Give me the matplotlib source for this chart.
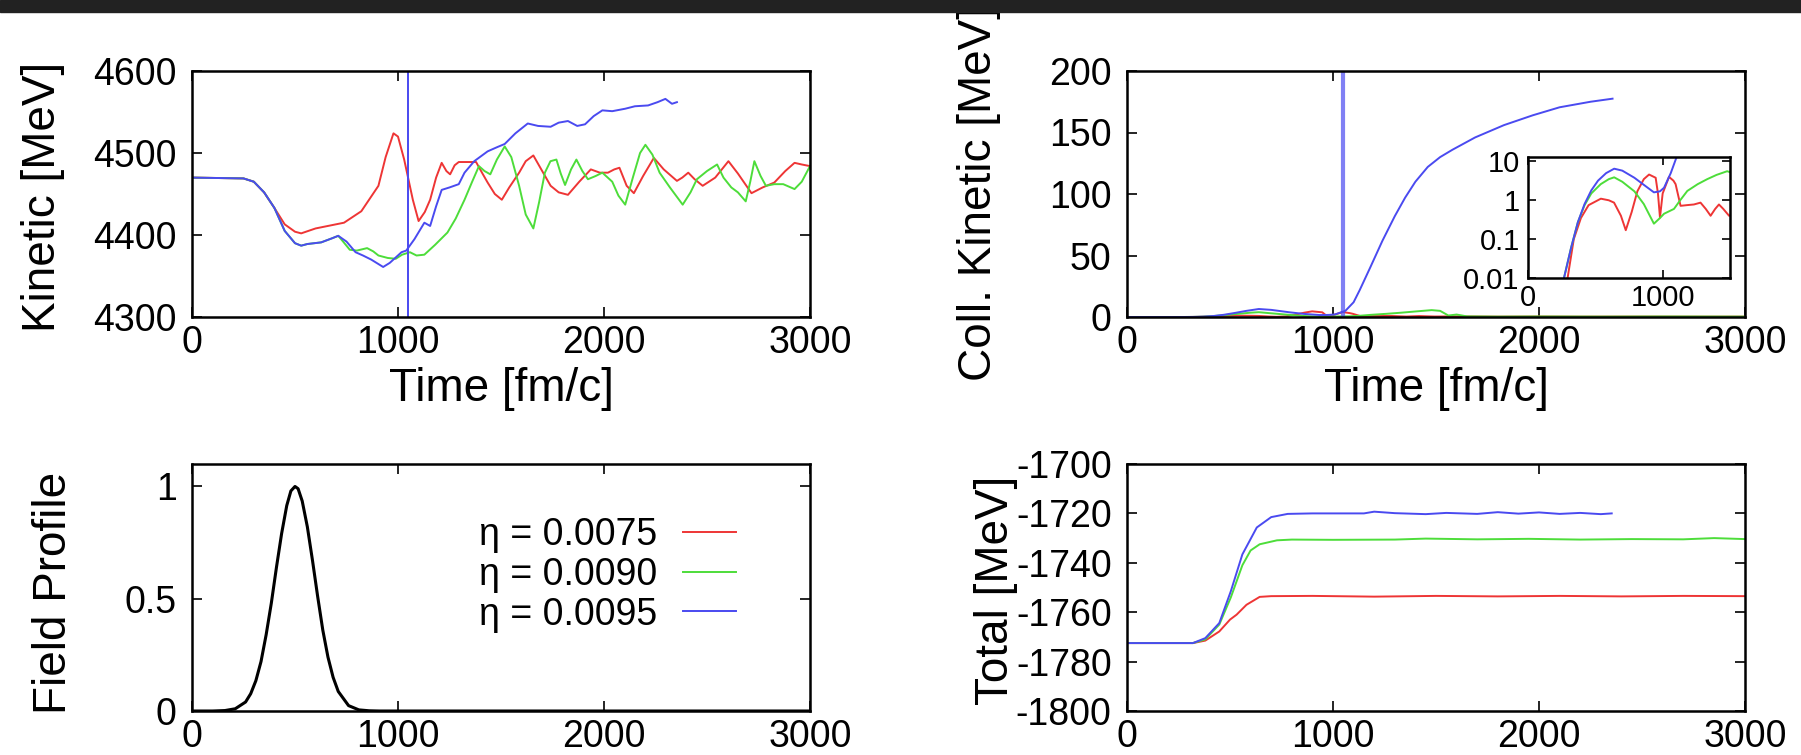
import numpy as np
import matplotlib
matplotlib.use("Agg")
import matplotlib.pyplot as plt
from matplotlib.lines import Line2D
from matplotlib.ticker import FixedLocator, FixedFormatter

plt.rcParams['font.family'] = ['Liberation Sans', 'DejaVu Sans']
plt.rcParams['axes.unicode_minus'] = False

RED, GREEN, BLUE = '#ee3535', '#4ddd3a', '#4a4af0'
labels = ['η = 0.0075', 'η = 0.0090', 'η = 0.0095']

# ---- Kinetic energy [MeV] ----
kin_red_t = [0, 250, 300, 350, 400, 450, 500, 530, 600, 738, 822, 905, 940, 978, 1000, 1030,
             1072, 1100, 1130, 1156, 1185, 1212, 1235, 1253, 1275, 1295, 1340, 1379, 1410, 1435,
             1470, 1504, 1540, 1588, 1620, 1657, 1700, 1741, 1780, 1825, 1880, 1936, 1980, 2019,
             2050, 2075, 2110, 2145, 2190, 2242, 2290, 2354, 2380, 2409, 2440, 2479, 2540, 2604,
             2650, 2716, 2770, 2827, 2880, 2925, 2960, 3000]
kin_red = [4470, 4469, 4465, 4452, 4433, 4413, 4404, 4402, 4408, 4415, 4429, 4460, 4495, 4524,
           4520, 4492, 4443, 4417, 4428, 4443, 4470, 4488, 4478, 4474, 4485, 4489, 4489, 4489,
           4475, 4464, 4450, 4443, 4458, 4476, 4490, 4497, 4478, 4460, 4452, 4449, 4465, 4480,
           4476, 4476, 4480, 4482, 4460, 4451, 4472, 4494, 4480, 4466, 4470, 4476, 4468, 4460,
           4470, 4490, 4475, 4451, 4458, 4464, 4478, 4488, 4486, 4484]

kin_green_t = [0, 250, 300, 350, 400, 450, 500, 530, 560, 627, 680, 710, 740, 766, 800, 850,
               880, 905, 950, 989, 1020, 1058, 1090, 1128, 1180, 1240, 1280, 1323, 1360, 1393,
               1420, 1448, 1480, 1518, 1550, 1588, 1620, 1657, 1685, 1713, 1740, 1769, 1790,
               1811, 1840, 1866, 1895, 1922, 1960, 1992, 2040, 2070, 2103, 2140, 2175, 2201,
               2235, 2270, 2320, 2382, 2420, 2451, 2500, 2549, 2580, 2618, 2650, 2688, 2710,
               2730, 2760, 2786, 2827, 2870, 2925, 2960, 3000]
kin_green = [4470, 4469, 4465, 4452, 4433, 4405, 4390, 4387, 4389, 4391, 4396, 4399, 4390, 4382,
             4381, 4384, 4380, 4375, 4372, 4371, 4376, 4379, 4375, 4376, 4388, 4403, 4420, 4443,
             4465, 4484, 4478, 4474, 4492, 4508, 4495, 4460, 4425, 4408, 4440, 4476, 4490, 4492,
             4475, 4461, 4480, 4492, 4478, 4468, 4472, 4476, 4465, 4448, 4437, 4470, 4500, 4510,
             4498, 4476, 4458, 4437, 4452, 4468, 4478, 4486, 4470, 4458, 4452, 4441, 4465, 4490,
             4472, 4460, 4462, 4462, 4456, 4465, 4484]

kin_blue_t = [0, 250, 300, 350, 400, 450, 500, 530, 560, 627, 680, 710, 750, 794, 830, 870, 928,
              960, 1017, 1040, 1080, 1128, 1156, 1185, 1212, 1250, 1295, 1323, 1370, 1435, 1480,
              1518, 1570, 1630, 1680, 1741, 1780, 1825, 1870, 1908, 1950, 1992, 2040, 2103, 2150,
              2214, 2260, 2298, 2330, 2354]
kin_blue = [4470, 4469, 4465, 4452, 4433, 4405, 4390, 4387, 4389, 4391, 4396, 4399, 4392, 4379,
            4375, 4370, 4361, 4366, 4379, 4381, 4395, 4415, 4411, 4435, 4455, 4458, 4462, 4476,
            4490, 4502, 4507, 4511, 4524, 4536, 4533, 4532, 4537, 4539, 4533, 4535, 4545, 4552,
            4551, 4554, 4557, 4558, 4562, 4566, 4560, 4562]

blue_spike_t = 1050  # time where the eta = 0.0095 run blows up

# ---- Collective kinetic energy [MeV] ----
coll_red_t = [0, 200, 294, 340, 393, 450, 541, 600, 639, 690, 726, 770, 812, 860, 899, 948, 965,
              980, 1000, 1047, 1080, 1096, 1133, 1180, 1232, 1281, 1320, 1356, 1390, 1418, 1450,
              1493, 1600, 1800, 2000, 2200, 2500, 2800, 3000]
coll_red = [1e-4, 1e-4, 0.01, 0.1, 0.35, 0.75, 1.1, 1.0, 0.87, 0.4, 0.17, 0.5, 1.7, 3.5, 4.6, 3.8,
            1.5, 0.36, 1.5, 4.0, 3.2, 2.6, 0.72, 0.75, 0.78, 0.87, 0.6, 0.4, 0.6, 0.78, 0.6, 0.4,
            0.5, 0.3, 0.4, 0.3, 0.35, 0.3, 0.3]

coll_green_t = [0, 200, 270, 320, 370, 420, 470, 540, 600, 640, 700, 790, 860, 935, 980, 1010,
                1084, 1130, 1183, 1260, 1331, 1400, 1479, 1520, 1560, 1600, 1650, 1800, 2000,
                2300, 2600, 3000]
coll_green = [1e-4, 1e-3, 0.011, 0.06, 0.27, 0.75, 1.5, 2.6, 3.5, 3.9, 3.0, 1.7, 0.8, 0.25, 0.35,
              0.45, 0.6, 1.0, 1.74, 2.6, 3.5, 4.5, 5.6, 5.0, 1.2, 2.0, 0.5, 0.3, 0.4, 0.3, 0.4, 0.3]

coll_blue_t = [0, 200, 270, 320, 370, 420, 470, 520, 580, 640, 700, 790, 860, 935, 980, 1010,
               1060, 1100, 1130, 1180, 1240, 1300, 1350, 1400, 1460, 1520, 1580, 1690, 1830, 1970,
               2100, 2250, 2357]
coll_blue = [1e-4, 1e-3, 0.011, 0.06, 0.27, 0.8, 1.8, 3.2, 5.0, 6.5, 5.8, 3.8, 2.5, 1.6, 1.7, 2.1,
             5.0, 12, 22, 40, 62, 82, 97, 110, 122, 130, 136, 146, 156, 164, 170.5, 175, 177.5]

# ---- Field profile ----
field_t = [0, 100, 160, 210, 260, 285, 310, 335, 360, 385, 410, 435, 460, 480, 500, 515, 535, 560,
           585, 610, 635, 660, 685, 710, 760, 810, 860, 910, 3000]
field = [0, 0, 0.002, 0.01, 0.04, 0.077, 0.135, 0.22, 0.34, 0.48, 0.64, 0.79, 0.915, 0.98, 1.0,
         0.99, 0.935, 0.82, 0.67, 0.51, 0.36, 0.24, 0.15, 0.087, 0.024, 0.005, 0.001, 0, 0]

# ---- Total energy [MeV] ----
tot_red_t = [0, 320, 380, 448, 500, 532, 580, 644, 700, 900, 1200, 1500, 1800, 2100, 2400, 2700, 3000]
tot_red = [-1772.5, -1772.5, -1771.5, -1767.8, -1763, -1761, -1757, -1753.8, -1753.5, -1753.4,
           -1753.7, -1753.4, -1753.6, -1753.4, -1753.6, -1753.4, -1753.5]
tot_green_t = [0, 320, 380, 448, 504, 560, 600, 644, 728, 800, 1000, 1300, 1450, 1700, 1950, 2200,
               2450, 2700, 2850, 3000]
tot_green = [-1772.5, -1772.5, -1771, -1765, -1754, -1741, -1735, -1732.5, -1730.9, -1730.6,
             -1730.7, -1730.6, -1730.2, -1730.5, -1730.3, -1730.6, -1730.4, -1730.5, -1730.0, -1730.4]
tot_blue_t = [0, 320, 380, 448, 504, 560, 630, 700, 780, 900, 1150, 1200, 1300, 1450, 1550, 1700,
              1800, 1900, 2000, 2100, 2200, 2300, 2353]
tot_blue = [-1772.5, -1772.5, -1770.5, -1764.4, -1751.5, -1736.6, -1725.7, -1721.5, -1720.2,
            -1720, -1720, -1719.3, -1719.9, -1720.3, -1719.8, -1720.2, -1719.5, -1720.1, -1719.6,
            -1720.2, -1719.8, -1720.3, -1720]

W, H = 1801, 755
fig = plt.figure(figsize=(W / 100, H / 100), dpi=100)


def px_axes(left, top, right, bottom):
    return fig.add_axes([left / W, 1 - bottom / H, (right - left) / W, (bottom - top) / H])


def style(ax, size=27):
    ax.tick_params(direction='in', top=True, right=True, length=7, width=1.2, labelsize=size)
    ax.tick_params(axis='x', pad=6)
    ax.tick_params(axis='y', pad=11)
    for s in ax.spines.values():
        s.set_linewidth(1.8)


lw = 1.4

ax1 = px_axes(192, 71, 810, 317)
ax1.plot(kin_red_t, kin_red, color=RED, lw=lw)
ax1.plot(kin_green_t, kin_green, color=GREEN, lw=lw)
ax1.plot(kin_blue_t, kin_blue, color=BLUE, lw=lw)
ax1.axvline(blue_spike_t, color=BLUE, lw=lw)
ax1.set_xlim(0, 3000)
ax1.set_ylim(4300, 4600)
ax1.set_xticks([0, 1000, 2000, 3000])
ax1.set_yticks([4300, 4400, 4500, 4600])
ax1.set_xlabel('Time [fm/c]', fontsize=33, labelpad=4)
ax1.set_ylabel('Kinetic [MeV]', fontsize=33)
ax1.yaxis.set_label_coords(-0.205, 0.49)
style(ax1)

ax2 = px_axes(1127, 71, 1745, 317)
ax2.plot(coll_red_t, coll_red, color=RED, lw=lw)
ax2.plot(coll_green_t, coll_green, color=GREEN, lw=lw)
ax2.plot(coll_blue_t, coll_blue, color=BLUE, lw=lw)
ax2.axvline(blue_spike_t, color=BLUE, lw=3, alpha=0.7)
ax2.set_xlim(0, 3000)
ax2.set_ylim(0, 200)
ax2.set_xticks([0, 1000, 2000, 3000])
ax2.set_yticks([0, 50, 100, 150, 200])
ax2.set_xlabel('Time [fm/c]', fontsize=33, labelpad=4)
ax2.set_ylabel('Coll. Kinetic [MeV]', fontsize=33)
ax2.yaxis.set_label_coords(-0.204, 0.5)
style(ax2)

axi = px_axes(1528, 157, 1730, 278)
axi.plot(coll_red_t, coll_red, color=RED, lw=lw)
axi.plot(coll_green_t, coll_green, color=GREEN, lw=lw)
axi.plot(coll_blue_t, coll_blue, color=BLUE, lw=lw)
axi.set_yscale('log')
axi.set_xlim(0, 1500)
axi.set_ylim(0.01, 13)
axi.xaxis.set_major_locator(FixedLocator([0, 1000]))
axi.yaxis.set_major_locator(FixedLocator([0.01, 0.1, 1, 10]))
axi.yaxis.set_major_formatter(FixedFormatter(['0.01', '0.1', '1', '10']))
axi.yaxis.set_minor_locator(FixedLocator([]))
style(axi, size=21)
axi.tick_params(length=6)
axi.tick_params(axis='x', pad=4)
axi.tick_params(axis='y', pad=6)

ax3 = px_axes(192, 464, 810, 711)
ax3.plot(field_t, field, color='black', lw=2.2)
ax3.set_xlim(0, 3000)
ax3.set_ylim(0, 1.1)
ax3.set_xticks([0, 1000, 2000, 3000])
ax3.set_yticks([0, 0.5, 1])
ax3.set_yticklabels(['0', '0.5', '1'])
ax3.set_ylabel('Field Profile', fontsize=33)
ax3.yaxis.set_label_coords(-0.188, 0.48)
style(ax3)
handles = [Line2D([], [], color=c, lw=lw) for c in (RED, GREEN, BLUE)]
ax3.legend(handles, labels, loc='upper right', bbox_to_anchor=(0.88, 0.785), frameon=False,
           markerfirst=False, fontsize=27, handlelength=1.4, handletextpad=0.7,
           labelspacing=0.1, borderpad=0, borderaxespad=0)

ax4 = px_axes(1127, 464, 1745, 711)
ax4.plot(tot_red_t, tot_red, color=RED, lw=lw)
ax4.plot(tot_green_t, tot_green, color=GREEN, lw=lw)
ax4.plot(tot_blue_t, tot_blue, color=BLUE, lw=lw)
ax4.set_xlim(0, 3000)
ax4.set_ylim(-1800, -1700)
ax4.set_xticks([0, 1000, 2000, 3000])
ax4.set_yticks([-1800, -1780, -1760, -1740, -1720, -1700])
ax4.set_ylabel('Total [MeV]', fontsize=33)
ax4.yaxis.set_label_coords(-0.176, 0.49)
style(ax4)

# dark strip across the top of the screenshot
fig.patches.append(plt.Rectangle((0, 1 - 12 / H), 1, 12 / H, transform=fig.transFigure,
                                 color='#222222', zorder=10))

fig.savefig('out.png', dpi=100)
